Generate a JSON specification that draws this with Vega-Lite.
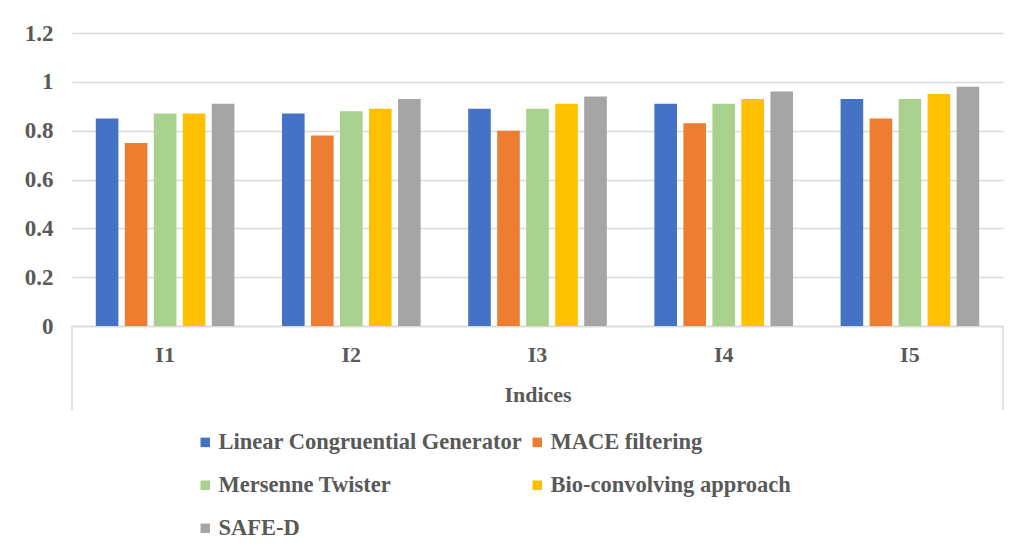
{
  "$schema": "https://vega.github.io/schema/vega-lite/v6.json",
  "width": 931,
  "height": 293,
  "autosize": {"type": "none"},
  "padding": {"left": 72, "top": 33, "right": 17, "bottom": 230},
  "background": "white",
  "config": {
    "view": {"stroke": null},
    "font": "Liberation Serif",
    "axis": {"labelFont": "Liberation Serif", "titleFont": "Liberation Serif"}
  },
  "data": {
    "values": [
      {"index": "I1", "method": "Linear Congruential Generator", "value": 0.85},
      {"index": "I1", "method": "MACE filtering", "value": 0.75},
      {"index": "I1", "method": "Mersenne Twister", "value": 0.87},
      {"index": "I1", "method": "Bio-convolving approach", "value": 0.87},
      {"index": "I1", "method": "SAFE-D", "value": 0.91},
      {"index": "I2", "method": "Linear Congruential Generator", "value": 0.87},
      {"index": "I2", "method": "MACE filtering", "value": 0.78},
      {"index": "I2", "method": "Mersenne Twister", "value": 0.88},
      {"index": "I2", "method": "Bio-convolving approach", "value": 0.89},
      {"index": "I2", "method": "SAFE-D", "value": 0.93},
      {"index": "I3", "method": "Linear Congruential Generator", "value": 0.89},
      {"index": "I3", "method": "MACE filtering", "value": 0.80},
      {"index": "I3", "method": "Mersenne Twister", "value": 0.89},
      {"index": "I3", "method": "Bio-convolving approach", "value": 0.91},
      {"index": "I3", "method": "SAFE-D", "value": 0.94},
      {"index": "I4", "method": "Linear Congruential Generator", "value": 0.91},
      {"index": "I4", "method": "MACE filtering", "value": 0.83},
      {"index": "I4", "method": "Mersenne Twister", "value": 0.91},
      {"index": "I4", "method": "Bio-convolving approach", "value": 0.93},
      {"index": "I4", "method": "SAFE-D", "value": 0.96},
      {"index": "I5", "method": "Linear Congruential Generator", "value": 0.93},
      {"index": "I5", "method": "MACE filtering", "value": 0.85},
      {"index": "I5", "method": "Mersenne Twister", "value": 0.93},
      {"index": "I5", "method": "Bio-convolving approach", "value": 0.95},
      {"index": "I5", "method": "SAFE-D", "value": 0.98}
    ]
  },
  "layer": [
    {
      "mark": {"type": "bar"},
      "encoding": {
        "x": {
          "field": "index",
          "type": "nominal",
          "scale": {"paddingInner": 0, "paddingOuter": 0},
          "axis": {
            "title": "Indices",
            "labelAngle": 0,
            "ticks": false,
            "grid": false,
            "domainColor": "#d9d9d9",
            "domainWidth": 1.5,
            "labelPadding": 18,
            "titlePadding": 19,
            "labelFontSize": 22,
            "labelFontWeight": "bold",
            "labelColor": "#595959",
            "titleFontSize": 22,
            "titleFontWeight": "bold",
            "titleColor": "#595959"
          }
        },
        "xOffset": {
          "field": "method",
          "type": "nominal",
          "sort": ["Linear Congruential Generator", "MACE filtering", "Mersenne Twister", "Bio-convolving approach", "SAFE-D"],
          "scale": {"paddingInner": 0.22, "paddingOuter": 0.82}
        },
        "y": {
          "field": "value",
          "type": "quantitative",
          "scale": {"domain": [0, 1.2], "nice": false, "zero": true},
          "axis": {
            "title": null,
            "values": [0, 0.2, 0.4, 0.6, 0.8, 1, 1.2],
            "format": "~g",
            "domain": false,
            "ticks": false,
            "gridColor": "#d9d9d9",
            "gridWidth": 1.5,
            "labelPadding": 19,
            "labelFontSize": 23,
            "labelFontWeight": "bold",
            "labelColor": "#595959"
          }
        },
        "color": {
          "field": "method",
          "type": "nominal",
          "scale": {
            "domain": ["Linear Congruential Generator", "MACE filtering", "Mersenne Twister", "Bio-convolving approach", "SAFE-D"],
            "range": ["#4472C4", "#ED7D31", "#A9D18E", "#FFC000", "#A5A5A5"]
          },
          "legend": {
            "title": null,
            "orient": "none",
            "legendX": 122,
            "legendY": 398,
            "columns": 2,
            "columnPadding": 3,
            "rowPadding": 20,
            "padding": 0,
            "values": ["Linear Congruential Generator", "Mersenne Twister", "SAFE-D", "MACE filtering", "Bio-convolving approach"],
            "symbolType": "square",
            "symbolSize": 90,
            "symbolStrokeWidth": 0,
            "labelOffset": 2,
            "labelLimit": 0,
            "labelFontSize": 22.5,
            "labelFont": "Liberation Serif",
            "labelFontWeight": "bold",
            "labelColor": "#595959"
          }
        }
      }
    },
    {
      "data": {"values": [{}]},
      "mark": {"type": "rule", "color": "#d9d9d9", "strokeWidth": 1.5},
      "encoding": {
        "x": {"datum": "I1", "type": "nominal", "bandPosition": 0},
        "y": {"datum": 0, "type": "quantitative"},
        "y2": {"datum": -0.344}
      }
    },
    {
      "data": {"values": [{}]},
      "mark": {"type": "rule", "color": "#d9d9d9", "strokeWidth": 1.5},
      "encoding": {
        "x": {"datum": "I5", "type": "nominal", "bandPosition": 1},
        "y": {"datum": 0, "type": "quantitative"},
        "y2": {"datum": -0.344}
      }
    }
  ]
}
